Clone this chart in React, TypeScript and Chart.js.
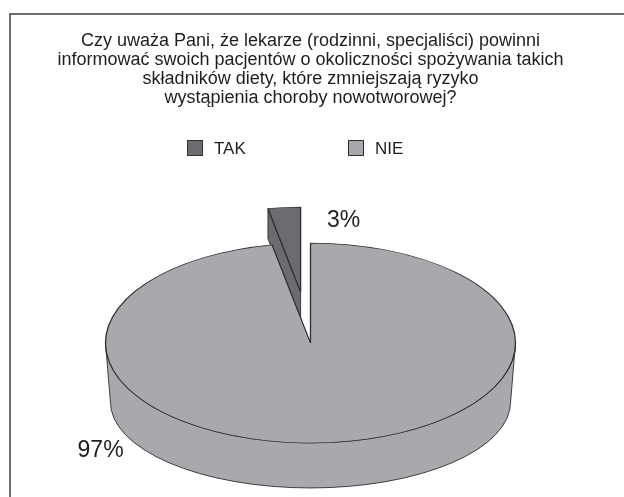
import { useEffect, useRef } from 'react';
import { Chart, registerables } from 'chart.js';

Chart.register(...registerables);

// Survey answers (percent of respondents)
const categories = ['TAK', 'NIE'];
const shares = [3, 97];
const sliceColors = ['#6b6c70', '#a7a9ac'];

const titleLines = [
  'Czy uważa Pani, że lekarze (rodzinni, specjaliści) powinni',
  'informować swoich pacjentów o okoliczności spożywania takich',
  'składników diety, które zmniejszają ryzyko',
  'wystąpienia choroby nowotworowej?',
];

const FONT = "'Liberation Sans', Arial, Helvetica, sans-serif";
const W = 624;
const H = 497;
const EDGE = '#2e2e2e';
const TEXT = '#1e1e1e';

// Tilted-disc look: top face squashed vertically, side wall below it
const PIE_R = 205;
const TILT = 0.4875;
const PIE_CY = 343;
const WALL = { drop: 59, rx: 0.976, ry: 0.86 };
const EXPLODE = { index: 0, dist: 105, shrink: 0.85, depth: 30 };

// Legend and value-label placement
const LEGEND = { y: 148, box: 16, x: [187, 348], gap: 11, size: 17 };
const VALUE_ANCHORS = [
  [0.161, -1.165],
  [-1.024, 1.14],
];

function pieCentre(chart: any) {
  const base = chart.getDatasetMeta(0).data.find((_: any, i: number) => i !== EXPLODE.index);
  return { cx: base.x, cy: base.y, R: base.outerRadius };
}

const pie3d = {
  id: 'pie3d',
  afterDatasetsUpdate(chart: any) {
    const el = chart.getDatasetMeta(0).data[EXPLODE.index];
    if (!el) return;
    const mid = (el.startAngle + el.endAngle) / 2;
    el.x += Math.cos(mid) * EXPLODE.dist;
    el.y += Math.sin(mid) * EXPLODE.dist;
    el.outerRadius *= EXPLODE.shrink;
  },
  beforeDatasetsDraw(chart: any) {
    const ctx = chart.ctx;
    const meta = chart.getDatasetMeta(0);
    const { cx, cy, R } = pieCentre(chart);
    const ry = R * TILT;
    const proj = (x: number, y: number) => [x, PIE_CY + (y - cy) * TILT];

    ctx.save();
    ctx.lineWidth = 0.9;
    ctx.strokeStyle = EDGE;
    ctx.lineJoin = 'round';

    // side wall of the large slice
    const big = meta.data[1];
    ctx.beginPath();
    ctx.ellipse(cx, PIE_CY, R, ry, 0, 0, Math.PI, false);
    ctx.lineTo(cx - R * WALL.rx, PIE_CY + WALL.drop);
    ctx.ellipse(cx, PIE_CY + WALL.drop, R * WALL.rx, ry * WALL.ry, 0, Math.PI, 0, true);
    ctx.closePath();
    ctx.fillStyle = big.options.backgroundColor;
    ctx.fill();
    ctx.stroke();

    // cut face of the pulled-out slice
    const ex = meta.data[EXPLODE.index];
    const a = ex.startAngle;
    const [ax, ay] = proj(ex.x, ex.y);
    const [rx, rimY] = proj(ex.x + ex.outerRadius * Math.cos(a), ex.y + ex.outerRadius * Math.sin(a));
    const d = EXPLODE.depth;
    ctx.beginPath();
    ctx.moveTo(rx, rimY);
    ctx.lineTo(ax, ay);
    ctx.lineTo(ax, ay + d);
    ctx.lineTo(rx, rimY + d);
    ctx.closePath();
    ctx.fillStyle = ex.options.backgroundColor;
    ctx.fill();
    ctx.stroke();
    ctx.restore();

    // squash the top faces that Chart.js draws next
    ctx.save();
    ctx.translate(0, PIE_CY);
    ctx.scale(1, TILT);
    ctx.translate(0, -cy);
  },
  afterDatasetsDraw(chart: any) {
    chart.ctx.restore();
  },
  afterDraw(chart: any) {
    const ctx = chart.ctx;
    const { cx, R } = pieCentre(chart);
    const ry = R * TILT;
    const ds = chart.data.datasets[0];

    ctx.save();
    // frame
    ctx.strokeStyle = '#4a4a4a';
    ctx.lineWidth = 1.6;
    ctx.strokeRect(10, 14, W + 50, H + 50);

    // legend
    ctx.font = `${LEGEND.size}px ${FONT}`;
    ctx.textBaseline = 'middle';
    ctx.textAlign = 'left';
    chart.data.labels.forEach((lab: string, i: number) => {
      const x = LEGEND.x[i];
      const top = LEGEND.y - LEGEND.box / 2;
      ctx.fillStyle = ds.backgroundColor[i];
      ctx.fillRect(x, top, LEGEND.box, LEGEND.box);
      ctx.lineWidth = 1;
      ctx.strokeStyle = EDGE;
      ctx.strokeRect(x + 0.5, top + 0.5, LEGEND.box - 1, LEGEND.box - 1);
      ctx.fillStyle = TEXT;
      ctx.fillText(lab, x + LEGEND.box + LEGEND.gap, LEGEND.y + 1);
    });

    // value labels
    ctx.font = `23px ${FONT}`;
    ctx.textAlign = 'center';
    ctx.textBaseline = 'alphabetic';
    ctx.fillStyle = TEXT;
    ds.data.forEach((v: number, i: number) => {
      const [fx, fy] = VALUE_ANCHORS[i];
      ctx.fillText(`${v}%`, cx + fx * R, PIE_CY + fy * ry);
    });
    ctx.restore();
  },
};

export default function App() {
  const ref = useRef<HTMLCanvasElement>(null);

  useEffect(() => {
    const total = shares.reduce((s, v) => s + v, 0);
    const chart = new Chart(ref.current!, {
      type: 'pie',
      data: {
        labels: categories,
        datasets: [
          {
            data: shares,
            backgroundColor: sliceColors,
            borderColor: EDGE,
            borderWidth: 1.3,
            clip: false,
          } as any,
        ],
      },
      options: {
        responsive: false,
        animation: false,
        events: [],
        radius: PIE_R,
        rotation: (-shares[0] / total) * 360,
        layout: { padding: { left: 0, right: 3, top: 0, bottom: 0 } },
        plugins: {
          legend: { display: false },
          tooltip: { enabled: false },
          title: {
            display: true,
            text: titleLines,
            color: TEXT,
            font: { family: FONT, size: 18, weight: 'normal', lineHeight: 1.06 },
            padding: { top: 31, bottom: 10 },
          },
        },
      } as any,
      plugins: [pie3d],
    });
    return () => chart.destroy();
  }, []);

  return (
    <div style={{ position: 'fixed', left: 0, top: 0, width: W, height: H, background: '#fff' }}>
      <canvas ref={ref} width={W} height={H} style={{ display: 'block' }} />
    </div>
  );
}
